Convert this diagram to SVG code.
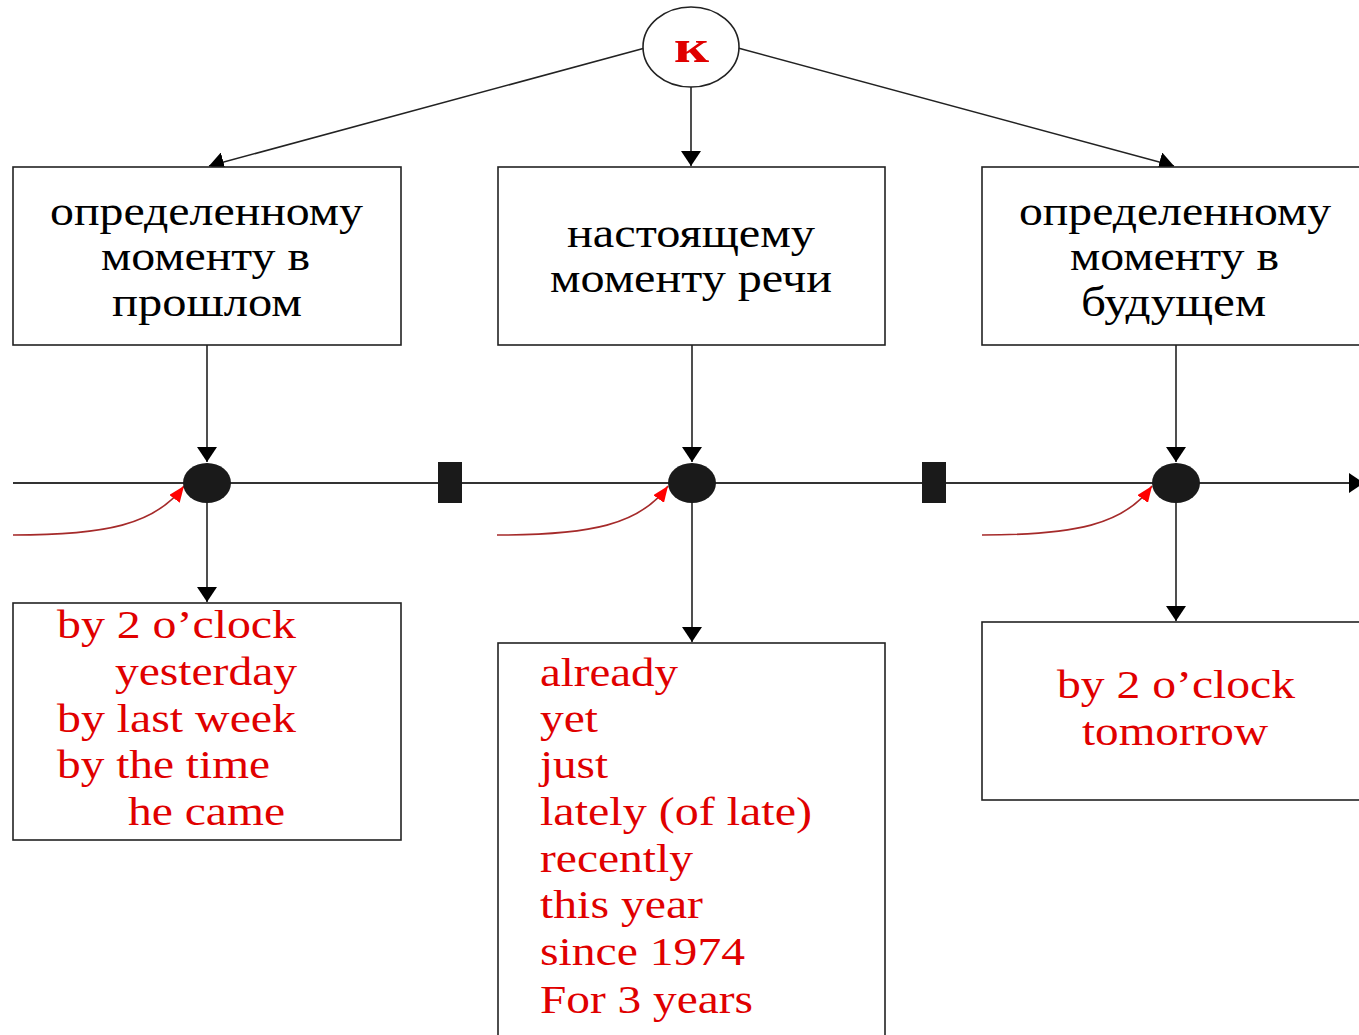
<svg xmlns="http://www.w3.org/2000/svg" width="1359" height="1035" viewBox="0 0 1359 1035">
<style>
.box{fill:#fff;stroke:#222;stroke-width:1.6}
.ln{stroke:#222;stroke-width:1.6;fill:none}
.tl{stroke:#333;stroke-width:2;fill:none}
.red{stroke:#a52a2a;stroke-width:1.6;fill:none}
.bk{font-family:"Liberation Serif","Times New Roman",serif;font-size:42px;fill:#000}
.rd{font-family:"Liberation Serif","Times New Roman",serif;font-size:40px;fill:#e00000}
.dot{fill:#1a1a1a}
</style>
<defs>
<marker id="ah" viewBox="0 0 15 20" refX="15" refY="10" markerWidth="15" markerHeight="20" markerUnits="userSpaceOnUse" orient="auto">
<path d="M0,0 L15,10 L0,20 z" fill="#000"/>
</marker>
<marker id="ahr" viewBox="0 0 16 13" refX="16" refY="6.5" markerWidth="16" markerHeight="13" markerUnits="userSpaceOnUse" orient="auto">
<path d="M0,0 L16,6.5 L0,13 z" fill="#ff0000"/>
</marker>
</defs>
<rect width="1359" height="1035" fill="#fff"/>

<g id="connectors">
<line class="ln" x1="645" y1="48" x2="209" y2="166" marker-end="url(#ah)"/>
<line class="ln" x1="738" y1="48" x2="1174" y2="166" marker-end="url(#ah)"/>
<line class="ln" x1="691" y1="87" x2="691" y2="166" marker-end="url(#ah)"/>
<line class="tl" x1="13" y1="483" x2="1364" y2="483" marker-end="url(#ah)"/>
<line class="ln" x1="207" y1="345" x2="207" y2="462" marker-end="url(#ah)"/>
<line class="ln" x1="692" y1="345" x2="692" y2="462" marker-end="url(#ah)"/>
<line class="ln" x1="1176" y1="345" x2="1176" y2="462" marker-end="url(#ah)"/>
<line class="ln" x1="207" y1="503" x2="207" y2="602" marker-end="url(#ah)"/>
<line class="ln" x1="692" y1="503" x2="692" y2="642" marker-end="url(#ah)"/>
<line class="ln" x1="1176" y1="503" x2="1176" y2="621" marker-end="url(#ah)"/>
<path class="red" d="M13,535 C105,535 155,525 184,486" marker-end="url(#ahr)"/>
<path class="red" d="M497,535 C590,535 640,525 668,486" marker-end="url(#ahr)"/>
<path class="red" d="M982,535 C1074,535 1124,525 1152,486" marker-end="url(#ahr)"/>
</g>

<g id="node-k">
<ellipse cx="691" cy="47" rx="48" ry="40" fill="#fff" stroke="#222" stroke-width="1.6"/>
<text x="674" y="62" textLength="35" lengthAdjust="spacingAndGlyphs" style="font-family:'Liberation Serif','Times New Roman',serif;font-size:46px;font-weight:bold;fill:#e00000">к</text>
</g>

<g id="node-past">
<rect class="box" x="13" y="167" width="388" height="178"/>
<text class="bk" x="50" y="225" textLength="313" lengthAdjust="spacingAndGlyphs">определенному</text>
<text class="bk" x="101" y="270" textLength="209" lengthAdjust="spacingAndGlyphs">моменту в</text>
<text class="bk" x="112" y="316" textLength="190" lengthAdjust="spacingAndGlyphs">прошлом</text>
</g>

<g id="node-present">
<rect class="box" x="498" y="167" width="387" height="178"/>
<text class="bk" x="567" y="247" textLength="248" lengthAdjust="spacingAndGlyphs">настоящему</text>
<text class="bk" x="550" y="292" textLength="282" lengthAdjust="spacingAndGlyphs">моменту речи</text>
</g>

<g id="node-future">
<rect class="box" x="982" y="167" width="392" height="178"/>
<text class="bk" x="1019" y="225" textLength="312" lengthAdjust="spacingAndGlyphs">определенному</text>
<text class="bk" x="1070" y="270" textLength="209" lengthAdjust="spacingAndGlyphs">моменту в</text>
<text class="bk" x="1081" y="316" textLength="185" lengthAdjust="spacingAndGlyphs">будущем</text>
</g>

<g id="timeline-marks">
<ellipse class="dot" cx="207" cy="483" rx="24" ry="20"/>
<ellipse class="dot" cx="692" cy="483" rx="24" ry="20"/>
<ellipse class="dot" cx="1176" cy="483" rx="24" ry="20"/>
<rect class="dot" x="438" y="462" width="24" height="41"/>
<rect class="dot" x="922" y="462" width="24" height="41"/>
</g>

<g id="node-past-examples">
<rect class="box" x="13" y="603" width="388" height="237"/>
<text class="rd" x="57" y="638" textLength="239" lengthAdjust="spacingAndGlyphs">by 2 o’clock</text>
<text class="rd" x="115" y="685" textLength="182" lengthAdjust="spacingAndGlyphs">yesterday</text>
<text class="rd" x="57" y="732" textLength="239" lengthAdjust="spacingAndGlyphs">by last week</text>
<text class="rd" x="57" y="778" textLength="213" lengthAdjust="spacingAndGlyphs">by the time</text>
<text class="rd" x="128" y="825" textLength="157" lengthAdjust="spacingAndGlyphs">he came</text>
</g>

<g id="node-present-examples">
<rect class="box" x="498" y="643" width="387" height="400"/>
<text class="rd" x="540" y="686" textLength="138" lengthAdjust="spacingAndGlyphs">already</text>
<text class="rd" x="540" y="732" textLength="58" lengthAdjust="spacingAndGlyphs">yet</text>
<text class="rd" x="540" y="778" textLength="68" lengthAdjust="spacingAndGlyphs">just</text>
<text class="rd" x="540" y="825" textLength="272" lengthAdjust="spacingAndGlyphs">lately (of late)</text>
<text class="rd" x="540" y="872" textLength="153" lengthAdjust="spacingAndGlyphs">recently</text>
<text class="rd" x="540" y="918" textLength="163" lengthAdjust="spacingAndGlyphs">this year</text>
<text class="rd" x="540" y="965" textLength="205" lengthAdjust="spacingAndGlyphs">since 1974</text>
<text class="rd" x="540" y="1013" textLength="213" lengthAdjust="spacingAndGlyphs">For 3 years</text>
</g>

<g id="node-future-examples">
<rect class="box" x="982" y="622" width="392" height="178"/>
<text class="rd" x="1057" y="698" textLength="238" lengthAdjust="spacingAndGlyphs">by 2 o’clock</text>
<text class="rd" x="1082" y="745" textLength="186" lengthAdjust="spacingAndGlyphs">tomorrow</text>
</g>
</svg>
